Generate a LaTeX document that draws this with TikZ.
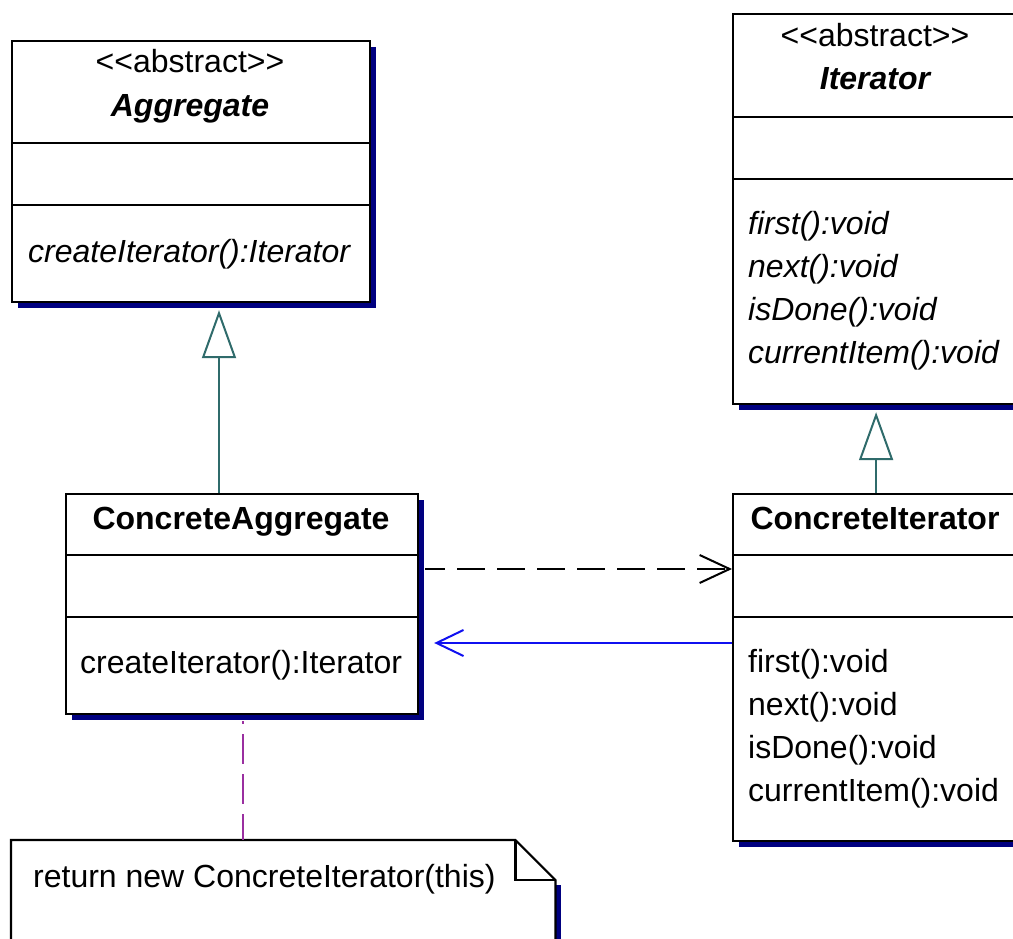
\documentclass[tikz,border=0pt]{standalone}
\usepackage{fontspec}
\newfontfamily\umlfont{Liberation Sans}
\usetikzlibrary{arrows.meta,calc,shadows}
\definecolor{shadowblue}{HTML}{000080}
\definecolor{genteal}{HTML}{2F6B6B}
\definecolor{notepurple}{HTML}{9A2FA0}
\definecolor{assocblue}{HTML}{1010F0}

\begin{document}
\begin{tikzpicture}[x=1pt,y=-1pt,
  every node/.style={font=\umlfont\fontsize{32}{43}\selectfont, inner sep=0pt},
  classbox/.style={draw=black, line width=2.2pt, fill=white, anchor=north west,
    drop shadow={shadow xshift=6pt, shadow yshift=-6pt, fill=shadowblue, opacity=1}},
  divider/.style={draw=black, line width=2.2pt},
  label/.style={anchor=base},
  member/.style={anchor=base west},
  gen/.style={draw=genteal, line width=2pt,
    -{Triangle[open, length=48pt, width=34pt, line width=2pt, fill=white]}},
  dep/.style={draw=black, line width=2.2pt, dash pattern=on 28pt off 12pt, dash phase=8pt,
    -{Straight Barb[length=30pt, width=28pt, line width=2pt]}},
  assoc/.style={draw=assocblue, line width=2pt,
    -{Straight Barb[length=27pt, width=26pt, line width=2pt]}},
  notelink/.style={draw=notepurple, line width=2.2pt, dash pattern=on 30pt off 10pt, dash phase=27pt},
  notebox/.style={draw=black, line width=2.2pt, fill=white}]

\useasboundingbox (0,0) rectangle (1013,939);
\clip (0,0) rectangle (1013,939);

% class boxes
\node[classbox, minimum width=358pt, minimum height=261pt] (agg) at (11,40) {};
\node[classbox, minimum width=286pt, minimum height=390pt] (it) at (732,13) {};
\node[classbox, minimum width=352pt, minimum height=220pt] (cagg) at (65,493) {};
\node[classbox, minimum width=286pt, minimum height=347pt] (cit) at (732,493) {};

% compartment lines
\draw[divider] (agg.west |- 0,143) -- (agg.east |- 0,143);
\draw[divider] (agg.west |- 0,205) -- (agg.east |- 0,205);
\draw[divider] (it.west |- 0,117) -- (it.east |- 0,117);
\draw[divider] (it.west |- 0,179) -- (it.east |- 0,179);
\draw[divider] (cagg.west |- 0,555) -- (cagg.east |- 0,555);
\draw[divider] (cagg.west |- 0,617) -- (cagg.east |- 0,617);
\draw[divider] (cit.west |- 0,555) -- (cit.east |- 0,555);
\draw[divider] (cit.west |- 0,617) -- (cit.east |- 0,617);

% Aggregate
\node[label] (aggst) at (190,73) {<<abstract>>};
\node[label] (aggname) at (190,117) {\bfseries\itshape Aggregate};
\node[member] (aggop) at (28,262) {\itshape createIterator():Iterator};

% Iterator
\node[label] (itst) at (875,47) {<<abstract>>};
\node[label] (itname) at (875,90) {\bfseries\itshape Iterator};
\node[member] (itop1) at (748,234) {\itshape first():void};
\node[member] (itop2) at (748,277) {\itshape next():void};
\node[member] (itop3) at (748,320) {\itshape isDone():void};
\node[member] (itop4) at (748,363) {\itshape currentItem():void};

% ConcreteAggregate
\node[label] (caggname) at (241,529) {\bfseries ConcreteAggregate};
\node[member] (caggop) at (80,673) {createIterator():Iterator};

% ConcreteIterator
\node[label] (citname) at (875,529) {\bfseries ConcreteIterator};
\node[member] (citop1) at (748,672) {first():void};
\node[member] (citop2) at (748,715) {next():void};
\node[member] (citop3) at (748,758) {isDone():void};
\node[member] (citop4) at (748,801) {currentItem():void};

% note with folded corner
\node[anchor=north west, minimum width=544pt, minimum height=140pt] (note) at (11,840) {};
\fill[shadowblue] ($(note.north east)+(0,45)$) rectangle ($(note.south east)+(6,0)$);
\draw[notebox] (note.south west) -- (note.north west) -- ($(note.north east)+(-40,0)$)
  -- ($(note.north east)+(0,40)$) -- (note.south east);
\draw[black, line width=2.2pt] ($(note.north east)+(-40,0)$) -- ++(0,40) -- ++(40,0);
\node[member] (notetext) at (33,887) {return new ConcreteIterator(this)};

% connectors
\coordinate (genA) at (219,0);
\draw[gen] (genA |- cagg.north) -- ($(genA |- agg.south)+(0,7)$);
\draw[gen] (cit.north) -- ($(it.south)+(0,7)$);
\draw[dep, shorten <=6pt] (cagg.east |- 0,569) -- (cit.west |- 0,569);
\draw[assoc, shorten >=15pt] (cit.west |- 0,643) -- (cagg.east |- 0,643);
\coordinate (noteX) at (243,0);
\draw[notelink] ($(noteX |- cagg.south)+(0,6)$) -- (noteX |- note.north);

\end{tikzpicture}
\end{document}
